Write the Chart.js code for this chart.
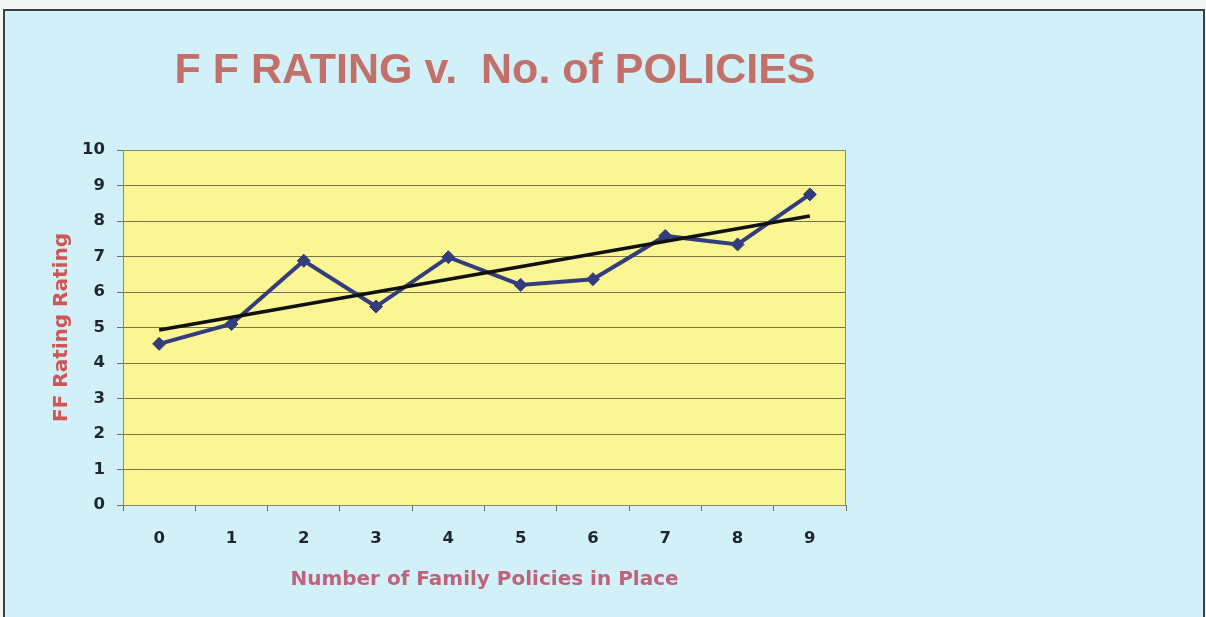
<!DOCTYPE html>
<html>
<head>
<meta charset="utf-8">
<script src="https://cdn.jsdelivr.net/npm/chart.js@4/dist/chart.umd.min.js"></script>
<style>
  html, body { margin: 0; padding: 0; background: #f4f6f6; width: 1206px; height: 617px; overflow: hidden; }
  #frame { position: absolute; left: 3px; top: 9px; width: 1202px; height: 640px; background: #d2f0f8;
           border-left: 2px solid #3c4048; border-top: 2px solid #3c4048; border-right: 2px solid #3c4048; box-sizing: border-box; }
  #wrap { position: absolute; left: 0; top: 0; width: 990px; height: 617px; }
</style>
</head>
<body>
<div id="frame"></div>
<div id="wrap"><canvas id="c" width="990" height="617"></canvas></div>
<script>
const categories = ['0', '1', '2', '3', '4', '5', '6', '7', '8', '9'];
const ffRating = [4.54, 5.1, 6.88, 5.59, 6.98, 6.2, 6.36, 7.58, 7.34, 8.75];
const trendLine = [4.93, null, null, null, null, null, null, null, null, 8.14];
const yTicks = [0, 1, 2, 3, 4, 5, 6, 7, 8, 9, 10];

const plotBg = {
  id: 'plotBg',
  beforeDraw(chart) {
    const a = chart.chartArea, ctx = chart.ctx;
    ctx.save();
    ctx.fillStyle = '#f9f693';
    ctx.fillRect(a.left, a.top, a.right - a.left, a.bottom - a.top);
    ctx.restore();
  },
  beforeDatasetsDraw(chart) {
    const a = chart.chartArea, ctx = chart.ctx;
    ctx.save();
    ctx.strokeStyle = '#8c8a6c';
    ctx.lineWidth = 1;
    ctx.strokeRect(a.left + 0.5, a.top + 0.5, a.right - a.left - 1, a.bottom - a.top);
    ctx.restore();
  }
};

const tickFont = { family: '"DejaVu Sans", sans-serif', size: 16.5, weight: 'bold' };
const axisTitleFont = { family: '"DejaVu Sans", sans-serif', size: 20, weight: 'bold' };

new Chart(document.getElementById('c'), {
  type: 'line',
  data: {
    labels: categories,
    datasets: [
      {
        label: 'Trend',
        data: trendLine,
        spanGaps: true,
        borderColor: '#111111',
        borderWidth: 3.5,
        pointRadius: 0,
        tension: 0,
        order: 0
      },
      {
        label: 'FF Rating',
        data: ffRating,
        borderColor: '#333d7c',
        backgroundColor: '#333d7c',
        borderWidth: 4,
        pointStyle: 'rectRot',
        pointRadius: 6.5,
        pointBorderWidth: 1,
        tension: 0,
        order: 1
      }
    ]
  },
  options: {
    responsive: false,
    devicePixelRatio: 1,
    animation: false,
    layout: { padding: 0 },
    plugins: {
      legend: { display: false },
      tooltip: { enabled: false },
      title: {
        display: true,
        text: 'F F RATING v.  No. of POLICIES',
        color: '#c2716a',
        font: { family: '"Liberation Sans", Arial, sans-serif', size: 43, weight: 'bold', lineHeight: 1.2 },
        padding: { top: 45, bottom: 53.4 }
      }
    },
    scales: {
      x: {
        type: 'category',
        offset: true,
        afterFit(s) { s.height = 112; },
        grid: { display: true, drawOnChartArea: false, offset: true, tickLength: 6, color: '#6a6a60', lineWidth: 1 },
        border: { display: true, color: '#6a6a60', width: 1 },
        ticks: { color: '#1f2630', padding: 17.5, font: tickFont },
        title: {
          display: true,
          text: 'Number of Family Policies in Place',
          color: '#c0627a',
          font: axisTitleFont,
          padding: { top: 0, bottom: 25 }
        }
      },
      y: {
        min: 0, max: 10,
        afterFit(s) { s.width = 123; },
        afterBuildTicks(s) { s.ticks = yTicks.map(v => ({ value: v })); },
        grid: { color: '#76744c', lineWidth: 1, tickLength: 6, drawTicks: true },
        border: { display: true, color: '#6a6a60', width: 1 },
        ticks: { color: '#1f2630', padding: 12, font: tickFont },
        title: {
          display: true,
          text: 'FF Rating Rating',
          color: '#d05656',
          font: axisTitleFont,
          padding: { top: 50, bottom: 0 }
        }
      },
      yPad: {
        position: 'right',
        display: true,
        afterFit(s) { s.width = 144; },
        grid: { display: false },
        border: { display: false },
        ticks: { display: false }
      }
    }
  },
  plugins: [plotBg]
});
</script>
</body>
</html>
